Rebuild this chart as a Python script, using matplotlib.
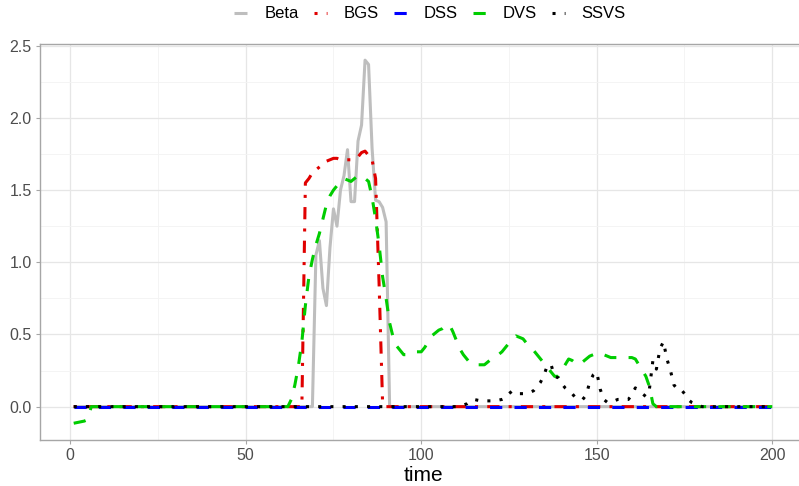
"""
    Coefficient paths over time for several shrinkage priors (Beta, BGS, DSS, DVS, SSVS).
"""

# ------ Environment Setup ------ #
import numpy as np
import matplotlib.pyplot as plt

plt.rcParams['font.family'] = ['Liberation Sans', 'DejaVu Sans']


# ------ Data ------ #
n_time = 200
time = np.arange(1, n_time + 1)

# true coefficient, non-zero for t = 70..90
beta_start = 70
beta_vals = [1.05, 1.15, 0.82, 0.70, 1.10, 1.37, 1.25, 1.50, 1.60, 1.78,
             1.42, 1.42, 1.84, 1.95, 2.40, 2.37, 1.79, 1.43, 1.42, 1.38, 1.28]

# BGS estimate, non-zero for t = 67..89
bgs_start = 67
bgs_vals = [1.55, 1.58, 1.62, 1.64, 1.66, 1.68, 1.70, 1.71, 1.72, 1.72,
            1.71, 1.71, 1.71, 1.71, 1.72, 1.73, 1.76, 1.77, 1.74, 1.71,
            1.58, 0.85, 0.02]

# DSS estimate, zero everywhere
dss_vals = [0.0] * n_time

# DVS estimate: small negative start, then t = 63..166
dvs_head = [-0.115, -0.11, -0.105, -0.10, -0.09]
dvs_start = 63
dvs_vals = [0.05, 0.15, 0.28, 0.45, 0.70, 0.90, 1.02, 1.12, 1.20, 1.30,
            1.40, 1.46, 1.50, 1.53, 1.56, 1.58, 1.57, 1.56, 1.58, 1.60,
            1.60, 1.58, 1.56, 1.45, 1.30, 1.12, 0.90, 0.75, 0.58, 0.48,
            0.42, 0.39, 0.36, 0.36, 0.37, 0.38, 0.38, 0.38, 0.41, 0.45,
            0.49, 0.51, 0.53, 0.54, 0.56, 0.57, 0.52, 0.46, 0.40, 0.36,
            0.33, 0.30, 0.29, 0.29, 0.29, 0.29, 0.31, 0.33, 0.35, 0.36,
            0.38, 0.41, 0.44, 0.47, 0.49, 0.48, 0.47, 0.44, 0.42, 0.39,
            0.36, 0.33, 0.30, 0.27, 0.24, 0.21, 0.21, 0.25, 0.29, 0.33,
            0.32, 0.30, 0.29, 0.31, 0.33, 0.35, 0.36, 0.37, 0.37, 0.36,
            0.35, 0.34, 0.34, 0.34, 0.34, 0.34, 0.34, 0.34, 0.33, 0.29,
            0.25, 0.21, 0.14, 0.02]

# SSVS estimate, non-zero for t = 111..179
ssvs_start = 111
ssvs_vals = [0.005, 0.01, 0.02, 0.04, 0.05, 0.045, 0.04, 0.04, 0.04, 0.04,
             0.04, 0.045, 0.05, 0.06, 0.09, 0.11, 0.10, 0.09, 0.09, 0.09,
             0.10, 0.11, 0.14, 0.17, 0.22, 0.29, 0.29, 0.21, 0.20, 0.16,
             0.13, 0.11, 0.09, 0.06, 0.05, 0.05, 0.08, 0.17, 0.22, 0.24,
             0.12, 0.05, 0.03, 0.03, 0.04, 0.05, 0.05, 0.05, 0.05, 0.08,
             0.13, 0.11, 0.09, 0.07, 0.12, 0.32, 0.26, 0.40, 0.45, 0.33,
             0.25, 0.15, 0.12, 0.12, 0.09, 0.05, 0.03, 0.02, 0.01]


# ------ Auxiliary Functions ------ #
def place(start, vals, head=None):
    # zero series with the read values dropped in at their time index
    out = np.zeros(n_time)
    out[start - 1:start - 1 + len(vals)] = vals
    if head is not None:
        out[:len(head)] = head
    return out


series = [
    ('Beta', place(beta_start, beta_vals), '#BEBEBE', '-'),
    ('BGS', place(bgs_start, bgs_vals), '#E00000', (0, (1, 3, 4, 3))),
    ('DSS', np.array(dss_vals), '#0000FF', (0, (4, 4))),
    ('DVS', place(dvs_start, dvs_vals, dvs_head), '#00CD00', (0, (4, 4))),
    ('SSVS', place(ssvs_start, ssvs_vals), '#000000', (0, (1, 3))),
]


# ------ Plotting ------ #
fig = plt.figure(figsize=(7.99, 4.86), dpi=100)
ax = fig.add_axes([40 / 799, 46 / 486, 767 / 799, 396 / 486])

for name, vals, color, ls in series:
    ax.plot(time, vals, color=color, linestyle=ls, linewidth=2.2,
            solid_capstyle='butt', dash_capstyle='butt', label=name)

# axes & grid
ax.set_xlim(-8.6, 209.9)
ax.set_ylim(-0.231, 2.512)
ax.set_xticks([0, 50, 100, 150, 200])
ax.set_xticks([25, 75, 125, 175], minor=True)
ax.set_yticks([0.0, 0.5, 1.0, 1.5, 2.0, 2.5])
ax.set_yticks([0.25, 0.75, 1.25, 1.75, 2.25], minor=True)
ax.set_yticklabels(['0.0', '0.5', '1.0', '1.5', '2.0', '2.5'])
ax.grid(True, which='major', color='#E6E6E6', linewidth=0.9)
ax.grid(True, which='minor', color='#F3F3F3', linewidth=0.6)
ax.set_axisbelow(True)
for sp in ax.spines.values():
    sp.set_color('#A6A6A6')
    sp.set_linewidth(1.0)
ax.tick_params(which='major', length=3, width=0.8, color='#A6A6A6',
               labelsize=11.5, labelcolor='#4D4D4D', pad=3)
ax.tick_params(which='minor', length=0)
ax.set_xlabel('time', fontsize=15, labelpad=2)

# legend on top
fig.legend(loc='center', bbox_to_anchor=(430 / 799, 1 - 14 / 486), ncol=5,
           frameon=False, fontsize=12, handlelength=0.8, handletextpad=1.0,
           columnspacing=0.9)

plt.savefig('out.png', dpi=100)
